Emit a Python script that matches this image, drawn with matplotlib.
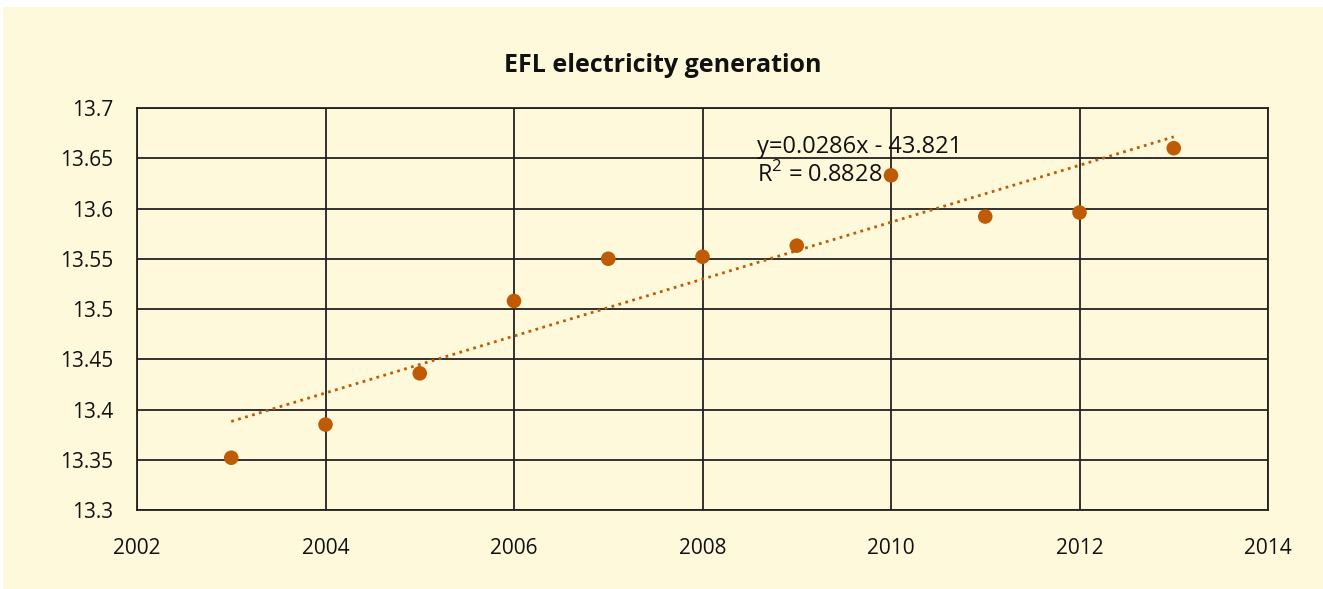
import matplotlib

matplotlib.use("Agg")

import matplotlib.pyplot as plt
import numpy as np
from matplotlib.patches import Rectangle

years = [2003, 2004, 2005, 2006, 2007, 2008, 2009, 2010, 2011, 2012, 2013]
generation = [13.352, 13.385, 13.436, 13.508, 13.550, 13.552, 13.563, 13.633, 13.592, 13.596, 13.660]
x_ticks = [2002, 2004, 2006, 2008, 2010, 2012, 2014]
y_ticks = [13.3, 13.35, 13.4, 13.45, 13.5, 13.55, 13.6, 13.65, 13.7]
y_tick_labels = ["13.3", "13.35", "13.4", "13.45", "13.5", "13.55", "13.6", "13.65", "13.7"]
title = "EFL electricity generation"
equation_lines = ["y=0.0286x - 43.821", "R$^2$ = 0.8828"]

bg = "#fff9dc"
marker_color = "#bf5b04"

plt.rcParams["font.family"] = ["Open Sans", "DejaVu Sans"]
plt.rcParams["mathtext.fontset"] = "custom"
plt.rcParams["mathtext.rm"] = "Open Sans"

fig = plt.figure(figsize=(13.23, 5.89), dpi=100)
fig.patch.set_facecolor("white")
fig.patches.append(
    Rectangle((3 / 1323, 0), 1 - 3 / 1323, 1 - 7 / 589, transform=fig.transFigure,
              facecolor=bg, edgecolor="none", zorder=-10)
)

ax = fig.add_axes([137 / 1323, 1 - 510 / 589, (1268 - 137) / 1323, (510 - 108) / 589])
ax.set_facecolor(bg)

# trendline
coef = np.polyfit(years, generation, 1)
trend_x = np.array([years[0], years[-1]])
ax.plot(trend_x, np.polyval(coef, trend_x), linestyle=(0, (1, 1.6)), color=marker_color,
        linewidth=2.0, zorder=3)

ax.scatter(years, generation, s=110, color=marker_color, edgecolors="none", zorder=4)

ax.set_xlim(2002, 2014)
ax.set_ylim(13.3, 13.7)
ax.set_xticks(x_ticks)
ax.set_yticks(y_ticks)
ax.set_yticklabels(y_tick_labels)
ax.grid(True, color="#222222", linewidth=1.3)
ax.set_axisbelow(True)
for spine in ax.spines.values():
    spine.set_color("#222222")
    spine.set_linewidth(1.3)
ax.tick_params(length=0, labelsize=15, colors="#111111")
ax.tick_params(axis="y", pad=17)
ax.tick_params(axis="x", pad=20)

ax.text(2008.58, 13.661, equation_lines[0], fontsize=17, color="#111111", va="center",
        ha="left", zorder=5)
ax.text(2008.58, 13.633, equation_lines[1], fontsize=17, color="#111111", va="center",
        ha="left", zorder=5)

fig.text(0.501, 1 - 66 / 589, title, fontsize=18, fontweight="bold", ha="center", va="center",
         color="#111111")

fig.savefig("out.png", dpi=100, facecolor=fig.get_facecolor())
